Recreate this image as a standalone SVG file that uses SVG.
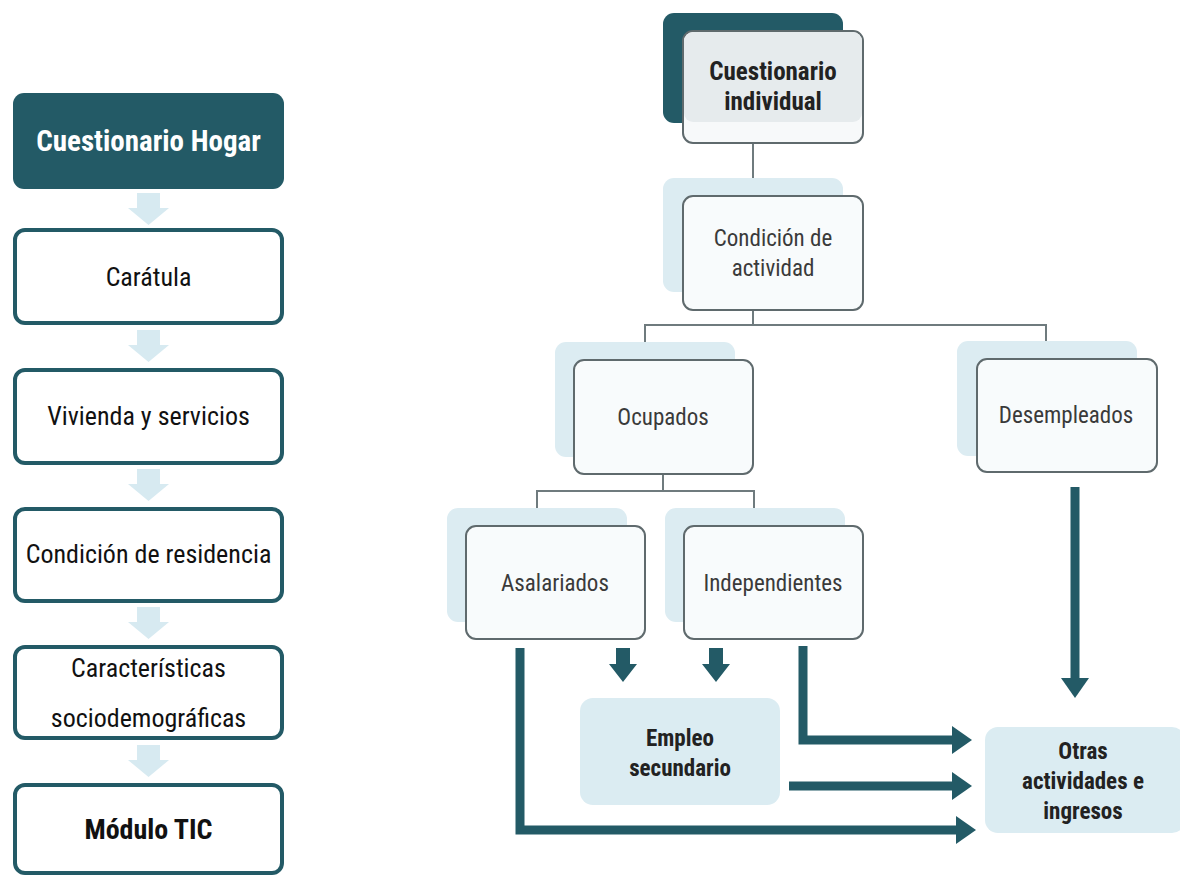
<svg xmlns="http://www.w3.org/2000/svg" width="1180" height="876" viewBox="0 0 1180 876">
<defs>
<style>
.t{font-family:"Liberation Sans Narrow","Roboto Condensed","DejaVu Sans Condensed","Liberation Sans",sans-serif;text-anchor:middle}
.lbox{fill:#ffffff;stroke:#235a66;stroke-width:4}
.lt{font-size:26px;fill:#111}
.back{fill:#dcecf2}
.front{fill:#f8fbfc;stroke:#5f6a6d;stroke-width:2}
.rt{font-size:23px;fill:#3a3a3a}
.bt{font-size:23px;font-weight:bold;fill:#222}
.conn{fill:none;stroke:#6f7b7e;stroke-width:2}
.dark{fill:none;stroke:#235a66;stroke-width:9}
.head{fill:#235a66}
.soft{fill:#dbecf2}
</style>
<path id="la" d="M137,0 H160 V15 H169 L148.5,32 L128,15 H137 Z" fill="#d7eaf1"/>
<marker id="ah" markerUnits="userSpaceOnUse" markerWidth="20" markerHeight="30" refX="2" refY="15" orient="auto" viewBox="0 0 20 30">
<path d="M0,1 L20,15 L0,29 Z" fill="#235a66"/>
</marker>
</defs>

<g id="left-arrows">
<use href="#la" y="193"/>
<use href="#la" y="330"/>
<use href="#la" y="469"/>
<use href="#la" y="607"/>
<use href="#la" y="745"/>
</g>

<g id="n-hogar">
<rect x="13" y="93" width="271" height="96" rx="11" fill="#235a66"/>
<text class="t" x="148.5" y="151" font-size="29" font-weight="bold" fill="#ffffff">Cuestionario Hogar</text>
</g>
<g id="n-caratula">
<rect class="lbox" x="15" y="230" width="267" height="93" rx="10"/>
<text class="t lt" x="148.5" y="286">Carátula</text>
</g>
<g id="n-vivienda">
<rect class="lbox" x="15" y="370" width="267" height="93" rx="10"/>
<text class="t lt" x="148.5" y="425">Vivienda y servicios</text>
</g>
<g id="n-residencia">
<rect class="lbox" x="15" y="509" width="267" height="92" rx="10"/>
<text class="t lt" x="148.5" y="563">Condición de residencia</text>
</g>
<g id="n-caract">
<rect class="lbox" x="15" y="647" width="267" height="91" rx="10"/>
<text class="t lt" x="148.5" y="677">Características</text>
<text class="t lt" x="148.5" y="727">sociodemográficas</text>
</g>
<g id="n-tic">
<rect class="lbox" x="15" y="785" width="267" height="88" rx="10"/>
<text class="t" x="148.5" y="839" font-size="28" font-weight="bold" fill="#111">Módulo TIC</text>
</g>

<g id="connectors">
<path class="conn" d="M753,143 V196"/>
<path class="conn" d="M753,310 V325 M645,342 V325 H1046 V341"/>
<path class="conn" d="M663,474 V491 M537,508 V491 H754 V508"/>
<path class="dark" d="M520,648 V830 H958" marker-end="url(#ah)"/>
<path class="dark" d="M803,646 V740 H954" marker-end="url(#ah)"/>
<path class="dark" d="M789,786 H954" marker-end="url(#ah)"/>
<path class="dark" d="M1075,487 V680" marker-end="url(#ah)"/>
<path class="head" d="M616,648 H630 V664 H637 L623,682 L609,664 H616 Z"/>
<path class="head" d="M709,648 H723 V664 H730 L716,682 L702,664 H709 Z"/>
</g>

<g id="n-individual">
<rect x="663" y="13" width="180" height="110" rx="11" fill="#235a66"/>
<rect x="683" y="31" width="180" height="112" rx="10" fill="#f7f9fa" stroke="#5f6a6d" stroke-width="2"/>
<rect x="684" y="32" width="178" height="90" rx="9" fill="#e6ebed"/>
<text class="t" x="773" y="80" font-size="25" font-weight="bold" fill="#222">Cuestionario</text>
<text class="t" x="773" y="110" font-size="25" font-weight="bold" fill="#222">individual</text>
</g>
<g id="n-condicion">
<rect class="back" x="663" y="178" width="180" height="114" rx="11"/>
<rect class="front" x="683" y="196" width="180" height="114" rx="10"/>
<text class="t rt" x="773" y="246">Condición de</text>
<text class="t rt" x="773" y="276">actividad</text>
</g>
<g id="n-ocupados">
<rect class="back" x="555" y="342" width="180" height="115" rx="11"/>
<rect class="front" x="574" y="360" width="179" height="114" rx="10"/>
<text class="t rt" x="663" y="425">Ocupados</text>
</g>
<g id="n-desempleados">
<rect class="back" x="957" y="341" width="180" height="115" rx="11"/>
<rect class="front" x="977" y="359" width="180" height="113" rx="10"/>
<text class="t rt" x="1066" y="423">Desempleados</text>
</g>
<g id="n-asalariados">
<rect class="back" x="447" y="508" width="180" height="114" rx="11"/>
<rect class="front" x="466" y="526" width="179" height="113" rx="10"/>
<text class="t rt" x="555" y="591">Asalariados</text>
</g>
<g id="n-independientes">
<rect class="back" x="665" y="508" width="180" height="114" rx="11"/>
<rect class="front" x="684" y="526" width="179" height="113" rx="10"/>
<text class="t rt" x="773" y="591">Independientes</text>
</g>
<g id="n-empleo">
<rect class="soft" x="580" y="698" width="200" height="107" rx="13"/>
<text class="t bt" x="680" y="746">Empleo</text>
<text class="t bt" x="680" y="776">secundario</text>
</g>
<g id="n-otras">
<rect class="soft" x="985" y="727" width="200" height="106" rx="13"/>
<text class="t bt" x="1083" y="759">Otras</text>
<text class="t bt" x="1083" y="789">actividades e</text>
<text class="t bt" x="1083" y="819">ingresos</text>
</g>
</svg>
